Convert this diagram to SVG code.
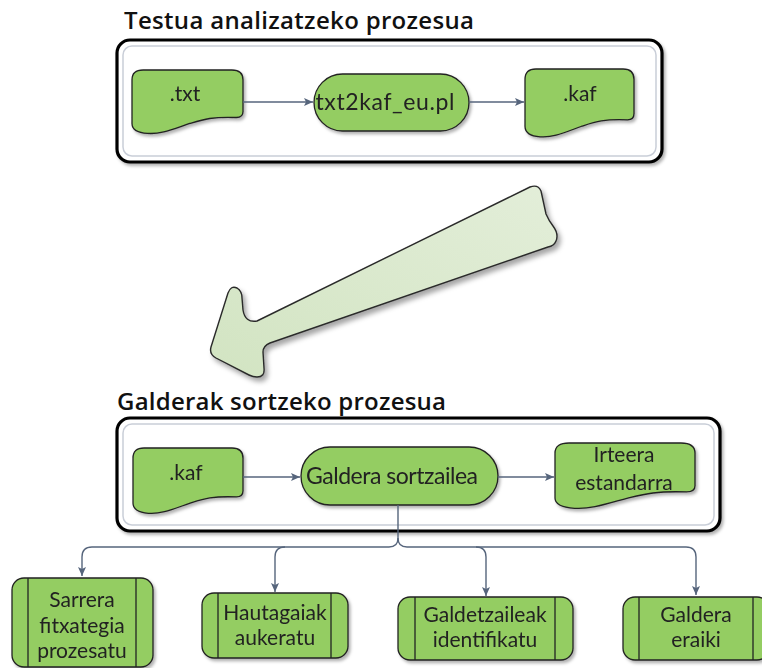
<svg xmlns="http://www.w3.org/2000/svg" xmlns:xlink="http://www.w3.org/1999/xlink" width="762" height="668" viewBox="0 0 762 668">
  <style>
    .title { font-family: "Open Sans", Lato, "Liberation Sans", sans-serif; font-weight: 600; font-size: 24px; fill: #111; }
    .label { font-family: Lato, "Open Sans", "Liberation Sans", sans-serif; font-size: 21px; fill: #222; text-anchor: middle; }
    .big { font-size: 23px; }
    .frame { fill: #fff; stroke: #000; stroke-width: 3.2; }
    .frame-inner { fill: none; stroke: #c9ced8; stroke-width: 1.5; }
    .node { fill: #94cd62; stroke: #222; stroke-width: 1.3; }
    .bar { stroke: #222; stroke-width: 1.3; }
    .conn { fill: none; stroke: #56657c; stroke-width: 1.4; }
  </style>
  <defs>
    <filter id="shadow" x="-20%" y="-20%" width="140%" height="150%">
      <feDropShadow dx="2" dy="2.5" stdDeviation="1.5" flood-color="#000" flood-opacity="0.3"/>
    </filter>
    <filter id="bigshadow" x="-20%" y="-20%" width="140%" height="150%">
      <feDropShadow dx="3" dy="4" stdDeviation="2.5" flood-color="#000" flood-opacity="0.35"/>
    </filter>
    <linearGradient id="arrowFill" x1="1" y1="0" x2="0" y2="1">
      <stop offset="0" stop-color="#e3eed9"/>
      <stop offset="1" stop-color="#d2e4c2"/>
    </linearGradient>
    <!-- document shape with wavy bottom, 100 x 64 base box -->
    <path id="doc" d="M0,10 Q0,0 10,0 H90 Q100,0 100,10 V42 Q100,48 94,48 C72,47 64,50 52,54 C36,60 26,65 14,64 Q0,63 0,54 Z" vector-effect="non-scaling-stroke"/>
    <marker id="arr" markerWidth="10" markerHeight="8" refX="9" refY="4" orient="auto" markerUnits="userSpaceOnUse">
      <path d="M0,0 L9,4 L0,8 L2,4 Z" fill="#56657c"/>
    </marker>
  </defs>

  <rect width="762" height="668" fill="#fff"/>

  <!-- upper process -->
  <text class="title" x="124" y="29" textLength="350">Testua analizatzeko prozesua</text>
  <g id="frame-top" filter="url(#shadow)">
    <rect class="frame" x="117" y="40" width="545" height="122" rx="13"/>
    <rect class="frame-inner" x="123" y="46" width="533" height="110" rx="9"/>
  </g>

  <g id="txt-file" filter="url(#shadow)">
    <use href="#doc" class="node" transform="translate(132,70) scale(1.11,0.99)"/>
    <text class="label" x="185" y="101">.txt</text>
  </g>
  <g id="txt2kaf" filter="url(#shadow)">
    <rect class="node" x="314" y="74" width="155" height="57" rx="28.5"/>
    <text class="label big" x="385" y="110" textLength="139">txt2kaf_eu.pl</text>
  </g>
  <g id="kaf-out" filter="url(#shadow)">
    <use href="#doc" class="node" transform="translate(525,69) scale(1.09,1.06)"/>
    <text class="label" x="580" y="101">.kaf</text>
  </g>

  <!-- transition arrow -->
  <g id="transition" filter="url(#bigshadow)">
    <path d="M530,187 Q538,184 541,191 Q544,205 546,214 Q549,221 553,226 Q559,234 556,241 Q554,246 548,247 L270,343 Q263,346 263,352 L264,368 Q265,377 257,377 Q253,377 249,375 L216,358 Q209,354 211,347 L228,293 Q231,285 237,288 Q242,291 242,298 L243,310 Q245,323 257,321 Z" fill="url(#arrowFill)" stroke="#2a2a2a" stroke-width="1.4" stroke-linejoin="round"/>
  </g>

  <!-- lower process -->
  <text class="title" x="117" y="410" textLength="329">Galderak sortzeko prozesua</text>
  <g id="frame-bottom" filter="url(#shadow)">
    <rect class="frame" x="117" y="418" width="603" height="113" rx="13"/>
    <rect class="frame-inner" x="123" y="424" width="591" height="101" rx="9"/>
  </g>

  <g id="kaf-in" filter="url(#shadow)">
    <use href="#doc" class="node" transform="translate(133,448) scale(1.10,1.02)"/>
    <text class="label" x="186" y="480">.kaf</text>
  </g>
  <g id="galdera-sortzailea" filter="url(#shadow)">
    <rect class="node" x="301" y="447" width="197" height="58" rx="29"/>
    <text class="label big" x="392" y="484" textLength="172">Galdera sortzailea</text>
  </g>
  <g id="irteera" filter="url(#shadow)">
    <use href="#doc" class="node" transform="translate(555,443) scale(1.40,1.02)"/>
    <text class="label" x="624" y="462">Irteera</text>
    <text class="label" x="624" y="490">estandarra</text>
  </g>

  <g id="sarrera" filter="url(#shadow)">
    <rect class="node" x="12" y="578" width="141" height="89" rx="12"/>
    <line class="bar" x1="28" y1="578" x2="28" y2="667"/>
    <line class="bar" x1="136" y1="578" x2="136" y2="667"/>
    <text class="label" x="82" y="607">Sarrera</text>
    <text class="label" x="82" y="633">fitxategia</text>
    <text class="label" x="82" y="658">prozesatu</text>
  </g>
  <g id="hautagaiak" filter="url(#shadow)">
    <rect class="node" x="202" y="593" width="146" height="65" rx="12"/>
    <line class="bar" x1="218" y1="593" x2="218" y2="658"/>
    <line class="bar" x1="331" y1="593" x2="331" y2="658"/>
    <text class="label" x="275" y="620">Hautagaiak</text>
    <text class="label" x="275" y="645">aukeratu</text>
  </g>
  <g id="galdetzaileak" filter="url(#shadow)">
    <rect class="node" x="398" y="597" width="175" height="63" rx="12"/>
    <line class="bar" x1="415" y1="597" x2="415" y2="660"/>
    <line class="bar" x1="555" y1="597" x2="555" y2="660"/>
    <text class="label" x="485" y="622">Galdetzaileak</text>
    <text class="label" x="485" y="647">identifikatu</text>
  </g>
  <g id="galdera-eraiki" filter="url(#shadow)">
    <rect class="node" x="623" y="597" width="146" height="63" rx="12"/>
    <line class="bar" x1="639" y1="597" x2="639" y2="660"/>
    <line class="bar" x1="753" y1="597" x2="753" y2="660"/>
    <text class="label" x="696" y="622">Galdera</text>
    <text class="label" x="696" y="647">eraiki</text>
  </g>

  <!-- connectors -->
  <g id="connectors">
    <line class="conn" x1="243" y1="102" x2="313" y2="102" marker-end="url(#arr)"/>
    <line class="conn" x1="469" y1="102" x2="524" y2="102" marker-end="url(#arr)"/>
    <line class="conn" x1="243" y1="477" x2="300" y2="477" marker-end="url(#arr)"/>
    <line class="conn" x1="498" y1="477" x2="554" y2="477" marker-end="url(#arr)"/>
    <path class="conn" d="M398,505 V538 Q398,547 389,547 H92 Q82,547 82,557 V576" marker-end="url(#arr)"/>
    <path class="conn" d="M398,538 Q398,547 407,547 H686 Q696,547 696,557 V595" marker-end="url(#arr)"/>
    <path class="conn" d="M285,547 Q275,547 275,557 V592" marker-end="url(#arr)"/>
    <path class="conn" d="M476,547 Q486,547 486,557 V596" marker-end="url(#arr)"/>
  </g>
</svg>
